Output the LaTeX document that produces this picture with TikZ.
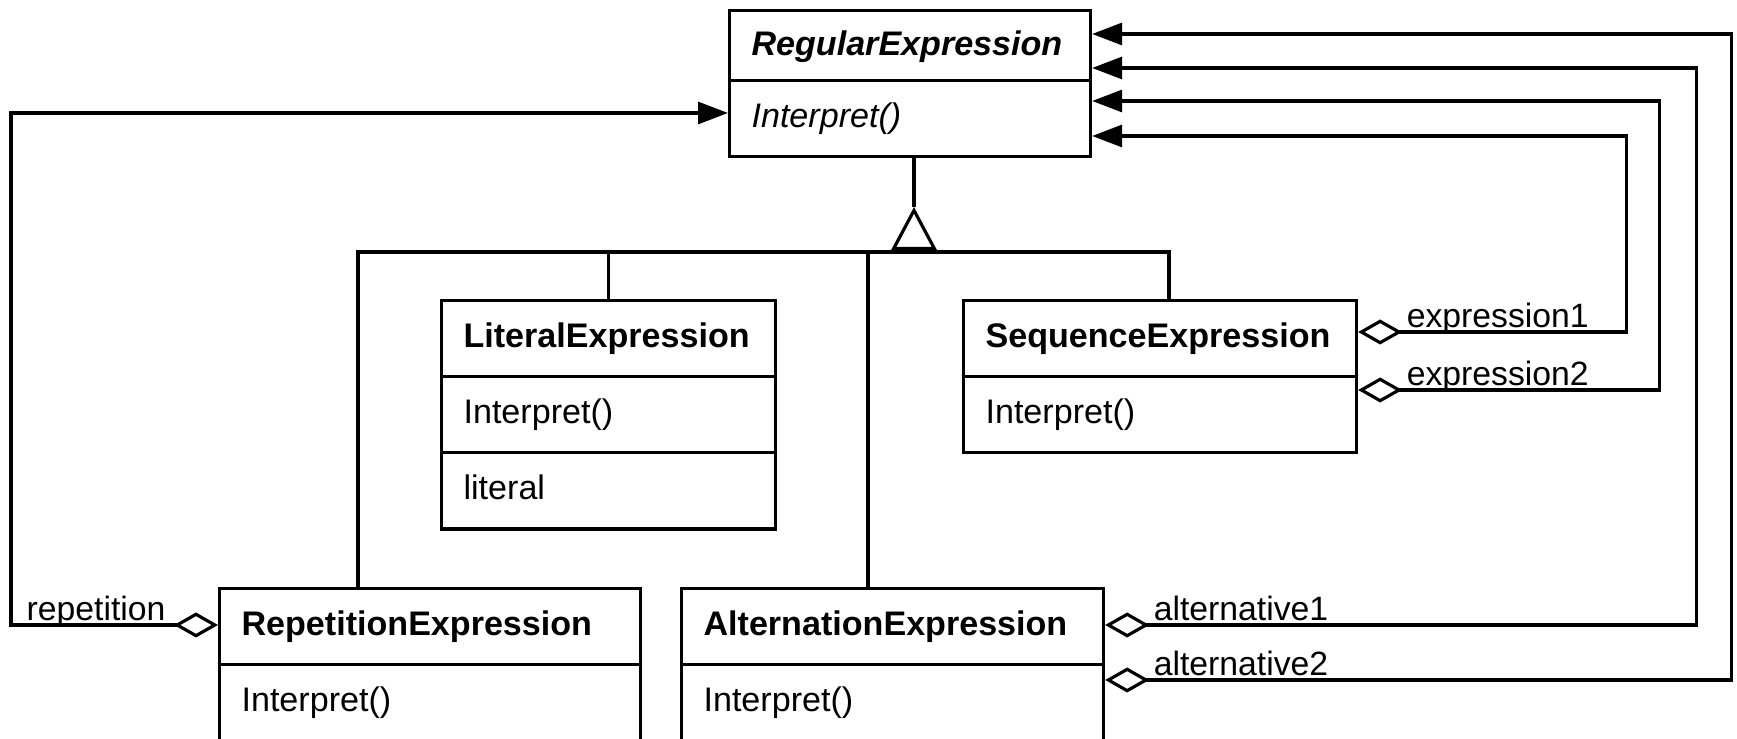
\documentclass[tikz,border=0pt]{standalone}
\usepackage{fontspec}
\setmainfont{Liberation Sans}
\usetikzlibrary{shapes.multipart,arrows.meta}
\newcommand\clsstrut{\rule[-0.28cm]{0pt}{0.73cm}}
\newcommand\topstrut{\rule[-0.24cm]{0pt}{0.67cm}}
\tikzset{
    CLS/.style ={rectangle split, rectangle split part align=left, draw, line width=0.9pt, inner xsep=0.22cm, inner ysep=0pt, anchor=north west, font=\fontsize{9.7}{11.5}\selectfont},
    AGG/.style ={line width=0.9pt, arrows={Diamond[open,length=0.44cm,width=0.25cm]}-{Triangle[length=0.3cm,width=0.22cm]}},
    INH/.style ={line width=0.9pt, -{Triangle[open,length=0.43cm,width=0.45cm]}},
    LB/.style ={pos=0, anchor=base west, xshift=0.47cm, yshift=0.04cm, inner sep=0pt, font=\fontsize{9.6}{11.5}\selectfont}}

\begin{document}
\begin{tikzpicture}
    \useasboundingbox (0,0) rectangle (17.37,7.39);
    \node[CLS, rectangle split parts=2, minimum width=3.61cm] (regexp) at(7.28,7.30)
        {\topstrut\textbf{\textit{RegularExpression}}\nodepart{second}\clsstrut\textit{Interpret()}};
    \node[CLS, rectangle split parts=3, minimum width=3.34cm] (lit) at(4.40,4.40)
        {\clsstrut\textbf{LiteralExpression}\nodepart{second}\clsstrut Interpret()\nodepart{third}\clsstrut literal};
    \node[CLS, rectangle split parts=2, minimum width=3.93cm] (seq) at(9.62,4.40)
        {\clsstrut\textbf{SequenceExpression}\nodepart{second}\clsstrut Interpret()};
    \node[CLS, rectangle split parts=2, minimum width=4.21cm] (rep) at(2.18,1.52)
        {\clsstrut\textbf{RepetitionExpression}\nodepart{second}\clsstrut Interpret()};
    \node[CLS, rectangle split parts=2, minimum width=4.22cm] (alt) at(6.80,1.52)
        {\clsstrut\textbf{AlternationExpression}\nodepart{second}\clsstrut Interpret()};

    \coordinate (apex) at (9.14,5.32);
    \coordinate (bus) at (9.14,4.87);
    \coordinate (repin) at ([xshift=1.40cm]rep.north west);
    \coordinate (altin) at ([xshift=1.88cm]alt.north west);
    \coordinate (seqin) at ([xshift=2.07cm]seq.north west);
    \draw[line width=0.9pt] (apex |- regexp.south) -- (apex);
    \draw[INH] (bus) -- (apex);
    \draw[line width=0.9pt] (repin) |- (seqin |- bus) -- (seqin);
    \draw[line width=0.9pt] (lit.north) -- (lit.north |- bus);
    \draw[line width=0.9pt] (altin) -- (altin |- bus);

    \draw[AGG] ([yshift=-0.33cm]seq.north east) -- node[LB]{expression1} ++(2.68,0) |- ([yshift=-1.27cm]regexp.north east);
    \draw[AGG] ([yshift=-0.91cm]seq.north east) -- node[LB]{expression2} ++(3.01,0) |- ([yshift=-0.92cm]regexp.north east);
    \draw[AGG] ([yshift=-0.38cm]alt.north east) -- node[LB]{alternative1} ++(5.91,0) |- ([yshift=-0.59cm]regexp.north east);
    \draw[AGG] ([yshift=-0.93cm]alt.north east) -- node[LB]{alternative2} ++(6.26,0) |- ([yshift=-0.25cm]regexp.north east);
    \draw[AGG] ([yshift=-0.38cm]rep.north west) -- node[LB, anchor=base east, xshift=-0.98cm]{repetition} ++(-2.07,0) |- ([yshift=-1.04cm]regexp.north west);
\end{tikzpicture}
\end{document}
